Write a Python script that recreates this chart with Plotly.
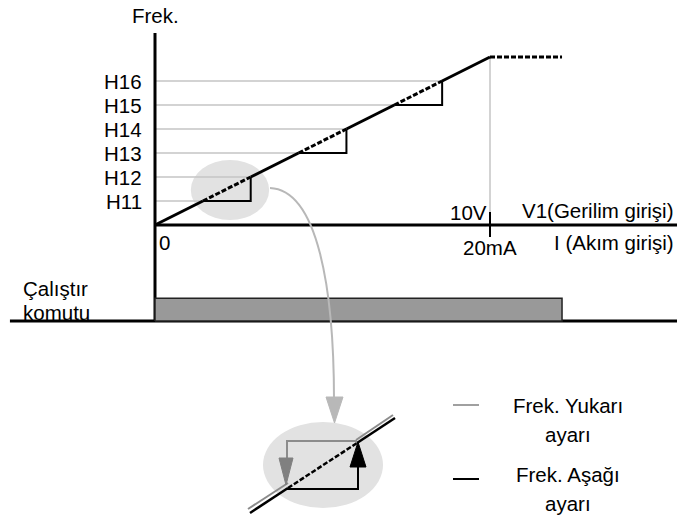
import plotly.graph_objects as go

# --- data -------------------------------------------------------------
levels = ["H11", "H12", "H13", "H14", "H15", "H16"]
level_vals = [1, 2, 3, 4, 5, 6]
f_max = 7            # frequency reached at full input
in_max = 10          # 10V / 20mA
run_end = 12.15      # end of the run command
run_top = -3.05
run_base = -4.0
axis_top = 8.0

FONT = "Liberation Sans, Arial, sans-serif"
FSIZE = 20.5
GRID = "#c4c4c4"
DASH = "5px,2px"
fig = go.Figure()


def x_at(f):
    # input value where the ramp reaches frequency f
    return f / f_max * in_max


def line(xs, ys, color="black", width=2, dash="solid", xa="x", ya="y"):
    fig.add_trace(go.Scatter(x=xs, y=ys, mode="lines", xaxis=xa, yaxis=ya,
                             line=dict(color=color, width=width, dash=dash),
                             hoverinfo="skip", showlegend=False))


# highlight ellipse round the H11/H12 step
fig.add_shape(type="circle", xref="x", yref="y", layer="below",
              x0=x_at(1) - 0.36, x1=x_at(2) + 0.55,
              y0=0.21, y1=2.71, fillcolor="#e2e2e2", line_width=0)

# grid lines for each level, step rectangles
for i, (name, f) in enumerate(zip(levels, level_vals)):
    line([0, x_at(f)], [f, f], color=GRID, width=1.5)
    if i % 2 == 0:
        up = level_vals[i + 1]
        line([x_at(f), x_at(up), x_at(up)], [f, f, up], width=2)
    fig.add_annotation(x=0, y=f, xref="x", yref="y", text=name, showarrow=False,
                       xanchor="right", xshift=-11,
                       font=dict(size=FSIZE, family=FONT, color="black"))

# vertical line at full input
line([in_max, in_max], [0, f_max], color=GRID, width=1.5)

# ramp: solid / dashed alternating
pts = [0] + level_vals + [f_max]
for i in range(len(pts) - 1):
    dash = DASH if i % 2 == 1 else "solid"
    line([x_at(pts[i]), x_at(pts[i + 1])], [pts[i], pts[i + 1]], width=3, dash=dash)
line([in_max, run_end], [f_max, f_max], width=3, dash=DASH)

# axes
line([0, 0], [run_base, axis_top], width=3)
line([0, 15.6], [0, 0], width=3)
line([-4.33, 15.6], [run_base, run_base], width=3)
line([in_max, in_max], [0.54, -0.5], width=2)

# run command bar
fig.add_trace(go.Scatter(x=[0, run_end, run_end, 0, 0],
                         y=[run_base, run_base, run_top, run_top, run_base],
                         mode="lines", fill="toself", fillcolor="#999999",
                         line=dict(color="#222222", width=1.5),
                         hoverinfo="skip", showlegend=False))

# --- inset (pixel axes) ----------------------------------------------
fig.add_shape(type="circle", xref="x2", yref="y2", layer="below",
              x0=263, x1=383, y0=422, y1=508, fillcolor="#e2e2e2", line_width=0)
fig.add_shape(type="path", xref="x2", yref="y2",
              path="M270,188 C318,190 334,290 334,400",
              line=dict(color="#b8b8b8", width=2))
fig.add_trace(go.Scatter(x=[326, 343, 334.5, 326], y=[397, 397, 423, 397], xaxis="x2", yaxis="y2",
                         mode="lines", fill="toself", fillcolor="#b8b8b8",
                         line=dict(color="#b8b8b8", width=1), hoverinfo="skip", showlegend=False))

# diagonal: double line outside, dashed inside
line([248, 288], [509, 483], color="#8c8c8c", width=2, xa="x2", ya="y2")
line([356, 393], [440, 415], color="#8c8c8c", width=2, xa="x2", ya="y2")
line([250, 288], [513, 488], width=2.5, xa="x2", ya="y2")
line([357, 395], [443, 418], width=2.5, xa="x2", ya="y2")
line([288, 357], [488, 443], width=2.5, dash=DASH, xa="x2", ya="y2")

# up/down loops
line([357, 287, 287], [441, 441, 460], color="#8c8c8c", width=2, xa="x2", ya="y2")
fig.add_trace(go.Scatter(x=[279, 293, 286, 279], y=[458, 458, 485, 458], xaxis="x2", yaxis="y2",
                         mode="lines", fill="toself", fillcolor="#808080",
                         line=dict(color="#808080", width=1), hoverinfo="skip", showlegend=False))
line([287, 358, 358], [489, 489, 465], width=2, xa="x2", ya="y2")
fig.add_trace(go.Scatter(x=[350, 366, 358, 350], y=[467, 467, 442, 467], xaxis="x2", yaxis="y2",
                         mode="lines", fill="toself", fillcolor="black",
                         line=dict(color="black", width=1), hoverinfo="skip", showlegend=False))

# legend marks
line([453, 479], [405, 405], color="#a0a0a0", width=2, xa="x2", ya="y2")
line([453, 479], [479, 479], width=2, xa="x2", ya="y2")

# --- texts --------------------------------------------------------------
def text(x, y, s, anchor="center", xr="x2", yr="y2"):
    fig.add_annotation(x=x, y=y, xref=xr, yref=yr, text=s, showarrow=False,
                       xanchor=anchor, yanchor="middle",
                       font=dict(size=FSIZE, family=FONT, color="black"))


text(155, 15, "Frek.")
text(157, 242, "0", "left")
text(489, 212, "10V", "right")
text(520, 210, "V1(Gerilim girişi)", "left")
text(490, 247, "20mA")
text(552, 242, "I (Akım girişi)", "left")
text(21, 288, "Çalıştır", "left")
text(21, 312, "komutu", "left")
text(568, 405, "Frek. Yukarı")
text(568, 434, "ayarı")
text(568, 474, "Frek. Aşağı")
text(568, 503, "ayarı")

hidden = dict(visible=False, showgrid=False, zeroline=False, fixedrange=True)
fig.update_layout(
    width=677, height=517,
    margin=dict(l=0, r=0, t=0, b=0),
    paper_bgcolor="white", plot_bgcolor="white",
    xaxis=dict(range=[-155 / 33.5, 522 / 33.5], **hidden),
    yaxis=dict(range=[-292 / 24, 225 / 24], **hidden),
    xaxis2=dict(range=[0, 677], overlaying="x", **hidden),
    yaxis2=dict(range=[517, 0], overlaying="y", **hidden),
    showlegend=False,
)

# page body has a default margin; drop it so the figure sits at the corner
fig.write_html("out.html", config={"displayModeBar": False},
               post_script="document.body.style.margin='0';")
